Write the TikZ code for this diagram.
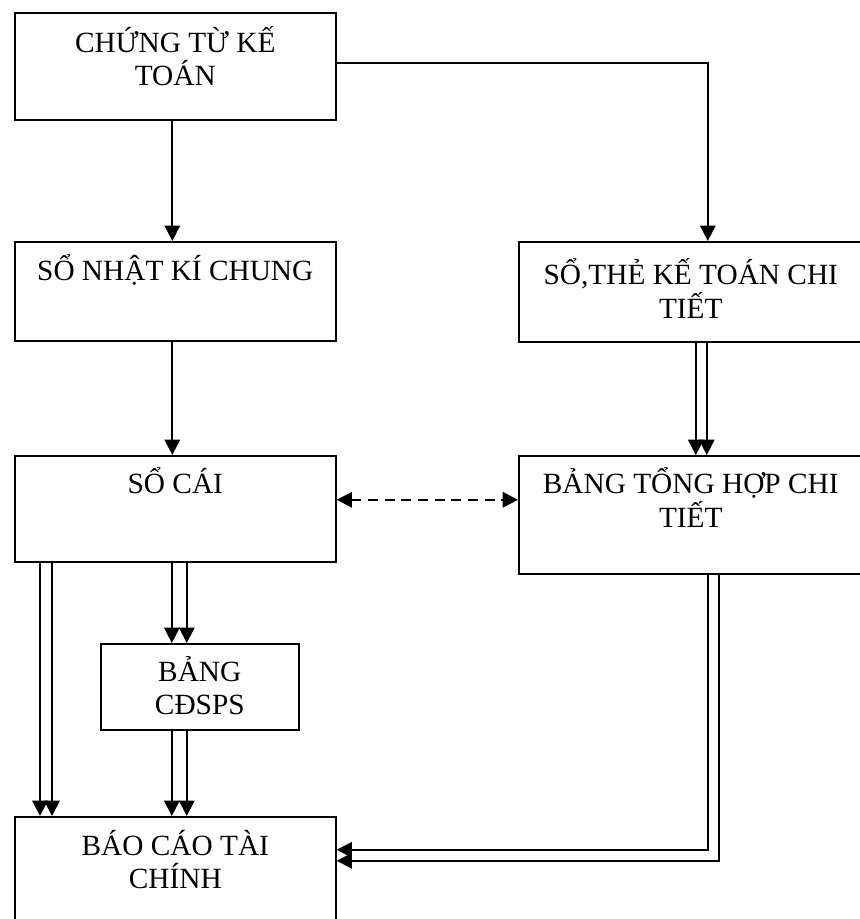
\documentclass[tikz,border=0pt]{standalone}
\usepackage{fontspec}
\setmainfont{Liberation Serif}
\usetikzlibrary{arrows.meta, calc}

% box text: width, height, first baseline from top, lines
\newcommand{\boxtext}[4]{\parbox[t][#2][t]{#1}{\centering\rule{0pt}{#3}#4}}

\begin{document}
\begin{tikzpicture}[
    x=0.75pt, y=-0.75pt,
    font=\fontsize{22}{25}\selectfont,
    kbox/.style={rectangle, draw=black, line width=1.2pt, inner sep=0pt, anchor=north west},
    karrow/.style={-{Triangle[length=11.5pt, width=11.5pt]}, line width=1.5pt},
    kdash/.style={{Triangle[length=11.5pt, width=11.5pt]}-{Triangle[length=11.5pt, width=11.5pt]}, line width=1.5pt, dash pattern=on 7.5pt off 5pt}
]
\useasboundingbox (0,0) rectangle (859,919);

\node[kbox] (chungtu) at (14,12) {\boxtext{240.75pt}{80.25pt}{29.5pt}{CHỨNG TỪ KẾ\\TOÁN}};
\node[kbox] (nhatki) at (14,241) {\boxtext{240.75pt}{74.25pt}{29pt}{SỔ NHẬT KÍ CHUNG}};
\node[kbox] (sothe) at (518,241) {\boxtext{258pt}{75pt}{32.25pt}{SỔ,THẺ KẾ TOÁN CHI\\TIẾT}};
\node[kbox] (socai) at (14,455) {\boxtext{240.75pt}{79.5pt}{28.5pt}{SỔ CÁI}};
\node[kbox] (tonghop) at (518,455) {\boxtext{258pt}{88.5pt}{28.5pt}{BẢNG TỔNG HỢP CHI\\TIẾT}};
\node[kbox] (bang) at (100,643) {\boxtext{148.5pt}{64.5pt}{28pt}{BẢNG\\CĐSPS}};
\node[kbox] (baocao) at (14,816) {\boxtext{240.75pt}{85.5pt}{29pt}{BÁO CÁO TÀI\\CHÍNH}};

\draw[karrow] ([xshift=-2.25pt]chungtu.south) -- ([xshift=-2.25pt]nhatki.north);
\draw[karrow] ([yshift=2.6pt]chungtu.east) -| ([xshift=12.75pt]sothe.north);
\draw[karrow] ([xshift=-2.25pt]nhatki.south) -- ([xshift=-2.25pt]socai.north);
\draw[karrow] ([xshift=3.75pt]sothe.south) -- ([xshift=3.75pt]tonghop.north);
\draw[karrow] ([xshift=12pt]sothe.south) -- ([xshift=12pt]tonghop.north);
\draw[kdash] ([yshift=6.75pt]socai.east) -- ([yshift=6.75pt]socai.east -| tonghop.west);

% socai to baocao and bang
\draw[karrow] ([xshift=19.5pt]socai.south west) -- ([xshift=19.5pt]baocao.north west);
\draw[karrow] ([xshift=28.5pt]socai.south west) -- ([xshift=28.5pt]baocao.north west);
\draw[karrow] ([xshift=-2.6pt]socai.south) -- ([xshift=-2.6pt]socai.south |- bang.north);
\draw[karrow] ([xshift=8.6pt]socai.south) -- ([xshift=8.6pt]socai.south |- bang.north);
\draw[karrow] ([xshift=-2.6pt]socai.south |- bang.south) -- ([xshift=-2.6pt]socai.south |- baocao.north);
\draw[karrow] ([xshift=8.6pt]socai.south |- bang.south) -- ([xshift=8.6pt]socai.south |- baocao.north);

% tonghop to baocao
\draw[karrow] ([xshift=12.75pt]tonghop.south) |- ([yshift=18pt]baocao.east);
\draw[karrow] ([xshift=21pt]tonghop.south) |- ([yshift=9.75pt]baocao.east);
\end{tikzpicture}
\end{document}
